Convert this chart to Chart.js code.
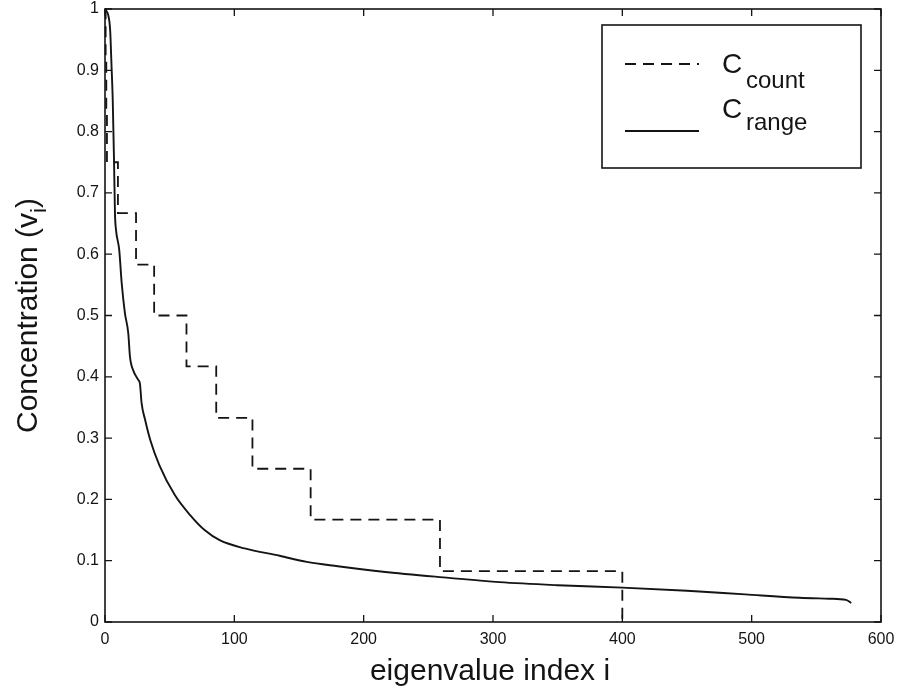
<!DOCTYPE html>
<html><head><meta charset="utf-8">
<script src="https://cdn.jsdelivr.net/npm/chart.js@4.4.1/dist/chart.umd.min.js"></script>
<style>html,body{margin:0;padding:0;background:#fff;}canvas{display:block;}</style>
</head><body>
<canvas id="c" width="901" height="698"></canvas>
<script>
// ---- data ----
const xTicks = [0, 100, 200, 300, 400, 500, 600];
const yTicks = [0, 0.1, 0.2, 0.3, 0.4, 0.5, 0.6, 0.7, 0.8, 0.9, 1];
const yTickLabels = ['0', '0.1', '0.2', '0.3', '0.4', '0.5', '0.6', '0.7', '0.8', '0.9', '1'];
const seriesNames = ['count', 'range'];
const xTitle = 'eigenvalue index i';
const yTitleParts = ['Concentration (v', 'i', ')'];

// C_count : step function (index where each level starts, level)
const countIndex  = [0, 0.5, 1, 1.5, 10, 24, 38, 63, 86, 114, 159, 259, 400];
const countValues = [1, 0.917, 0.833, 0.75, 0.667, 0.583, 0.5, 0.417, 0.333, 0.25, 0.167, 0.083, 0];

// C_range : solid curve
const rangeIndex  = [0, 1, 2.5, 4, 5, 6, 7, 7.7, 8.5, 11, 12.9, 15.4, 18, 19.3, 21.9, 25.7, 27, 28.3, 31, 35, 42, 54, 66, 77, 89, 108, 135, 156, 180, 215, 266, 305, 350, 400, 450, 495, 537, 560, 573, 577];
const rangeValues = [1, 0.997, 0.99, 0.965, 0.91, 0.85, 0.75, 0.667, 0.64, 0.607, 0.553, 0.504, 0.471, 0.433, 0.41, 0.395, 0.389, 0.357, 0.33, 0.297, 0.256, 0.207, 0.174, 0.15, 0.133, 0.12, 0.108, 0.098, 0.091, 0.082, 0.072, 0.065, 0.06, 0.056, 0.051, 0.045, 0.0396, 0.038, 0.036, 0.031];

const countData = countIndex.map((x, k) => ({x, y: countValues[k]}));
const rangeData = rangeIndex.map((x, k) => ({x, y: rangeValues[k]}));

const FONT = "'Liberation Sans', Arial, Helvetica, sans-serif";
const INK = '#141414';
const DASH = [11, 7];

function drawRich(ctx, parts, x, y) {
  // parts: [{t, size, dy}] drawn left to right from x, baseline y
  let cx = x;
  for (const p of parts) {
    ctx.font = p.size + 'px ' + FONT;
    ctx.fillText(p.t, cx, y + (p.dy || 0));
    cx += ctx.measureText(p.t).width;
  }
  return cx - x;
}
function richWidth(ctx, parts) {
  let w = 0;
  for (const p of parts) { ctx.font = p.size + 'px ' + FONT; w += ctx.measureText(p.t).width; }
  return w;
}

const decor = {
  id: 'decor',
  afterDraw(chart) {
    const ctx = chart.ctx;
    const a = chart.chartArea;
    const xs = chart.scales.x, ys = chart.scales.y;
    ctx.save();
    ctx.strokeStyle = INK;
    ctx.fillStyle = INK;
    // frame
    ctx.lineWidth = 1.6;
    ctx.strokeRect(a.left, a.top, a.right - a.left, a.bottom - a.top);
    // inward ticks on all sides
    const TL = 7;
    ctx.lineWidth = 1.3;
    ctx.beginPath();
    xTicks.forEach(v => {
      const px = xs.getPixelForValue(v);
      ctx.moveTo(px, a.bottom); ctx.lineTo(px, a.bottom - TL);
      ctx.moveTo(px, a.top); ctx.lineTo(px, a.top + TL);
    });
    yTicks.forEach(v => {
      const py = ys.getPixelForValue(v);
      ctx.moveTo(a.left, py); ctx.lineTo(a.left + TL, py);
      ctx.moveTo(a.right, py); ctx.lineTo(a.right - TL, py);
    });
    ctx.stroke();

    // x title
    ctx.textBaseline = 'alphabetic';
    ctx.textAlign = 'left';
    const xParts = [{t: xTitle, size: 30}];
    const xw = richWidth(ctx, xParts);
    drawRich(ctx, xParts, 490 - xw / 2, 680);

    // y title (rotated)
    const yParts = [{t: yTitleParts[0], size: 30}, {t: yTitleParts[1], size: 22, dy: 9}, {t: yTitleParts[2], size: 30}];
    const yw = richWidth(ctx, yParts);
    ctx.save();
    ctx.translate(37, (a.top + a.bottom) / 2);
    ctx.rotate(-Math.PI / 2);
    drawRich(ctx, yParts, -yw / 2, 0);
    ctx.restore();

    // legend
    ctx.lineWidth = 1.6;
    ctx.strokeRect(602, 25, 259, 143);
    ctx.lineWidth = 1.8;
    ctx.setLineDash(DASH);
    ctx.beginPath(); ctx.moveTo(625, 64); ctx.lineTo(699, 64); ctx.stroke();
    ctx.setLineDash([]);
    ctx.beginPath(); ctx.moveTo(625, 131); ctx.lineTo(699, 131); ctx.stroke();
    ctx.font = '28px ' + FONT;
    ctx.fillText('C', 722, 73);
    ctx.font = '24px ' + FONT;
    ctx.fillText(seriesNames[0], 746, 88);
    ctx.font = '28px ' + FONT;
    ctx.fillText('C', 722, 118);
    ctx.font = '24px ' + FONT;
    ctx.fillText(seriesNames[1], 746, 130);
    ctx.restore();
  }
};

new Chart(document.getElementById('c'), {
  type: 'line',
  data: {
    datasets: [
      {label: 'C_count', data: countData, stepped: 'before', borderColor: INK, borderWidth: 1.8, borderDash: DASH, pointRadius: 0, fill: false, clip: 6},
      {label: 'C_range', data: rangeData, borderColor: INK, borderWidth: 1.9, pointRadius: 0, fill: false, cubicInterpolationMode: 'monotone', clip: 6}
    ]
  },
  options: {
    responsive: false,
    animation: false,
    events: [],
    layout: {padding: {left: 0, right: 20, top: 9, bottom: 0}},
    plugins: {legend: {display: false}, tooltip: {enabled: false}, title: {display: false}},
    scales: {
      x: {
        type: 'linear', min: 0, max: 600,
        afterBuildTicks: s => { s.ticks = xTicks.map(v => ({value: v})); },
        ticks: {callback: (v, i) => String(xTicks[i]), padding: 8, font: {size: 16, family: FONT}, color: INK, maxRotation: 0, autoSkip: false},
        grid: {display: false, drawTicks: false},
        border: {display: false},
        afterFit: s => { s.height = 76; s.paddingLeft = 0; s.paddingRight = 0; }
      },
      y: {
        type: 'linear', min: 0, max: 1,
        afterBuildTicks: s => { s.ticks = yTicks.map(v => ({value: v})); },
        ticks: {callback: (v, i) => yTickLabels[i], padding: 6, font: {size: 16, family: FONT}, color: INK, autoSkip: false},
        grid: {display: false, drawTicks: false},
        border: {display: false},
        afterFit: s => { s.width = 105; s.paddingTop = 0; s.paddingBottom = 0; }
      }
    }
  },
  plugins: [decor]
});
</script>
</body></html>
